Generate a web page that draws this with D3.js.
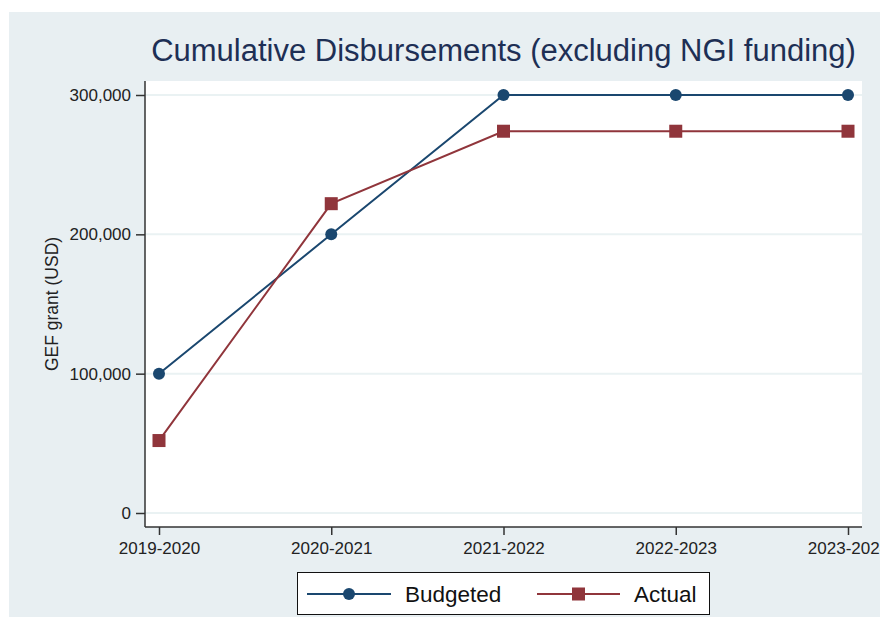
<!DOCTYPE html>
<html>
<head>
<meta charset="utf-8">
<script src="https://cdn.jsdelivr.net/npm/d3@7"></script>
<style>
  body { margin: 0; background: #fff; }
  svg { display: block; font-family: "Liberation Sans", Arial, sans-serif; }
</style>
</head>
<body>
<script>
// data
var years = ["2019-2020", "2020-2021", "2021-2022", "2022-2023", "2023-2024"];
var budgeted = [100000, 200000, 300000, 300000, 300000];
var actual = [52000, 222000, 274000, 274000, 274000];
var yTicks = [0, 100000, 200000, 300000];

var margin = {top: 81, right: 18, bottom: 90, left: 145};
var width = 880 - margin.left - margin.right;
var height = 617 - margin.top - margin.bottom;

var navy = "#1a476f";
var maroon = "#90353b";

var svg = d3.select("body")
  .append("svg")
    .attr("width", 880)
    .attr("height", 617);

// outer background
svg.append("rect")
  .attr("x", 9)
  .attr("y", 12)
  .attr("width", 871)
  .attr("height", 605)
  .attr("fill", "#e8eff2");

svg.append("text")
  .attr("x", margin.left + width / 2)
  .attr("y", 61)
  .attr("text-anchor", "middle")
  .attr("font-size", "31px")
  .style("fill", "#1e2f55")
  .text("Cumulative Disbursements (excluding NGI funding)");

var g = svg.append("g")
  .attr("transform", "translate(" + margin.left + " " + margin.top + ")");

g.append("rect")
  .attr("width", width)
  .attr("height", height)
  .attr("fill", "#fff");

var x = d3.scalePoint()
  .domain(years)
  .range([14, width - 14]);

var y = d3.scaleLinear()
  .domain([0, 300000])
  .range([height - 14, 14]);

// gridlines
g.selectAll("line.grid")
  .data(yTicks)
  .enter()
  .append("line")
    .attr("class", "grid")
    .attr("x1", 0)
    .attr("x2", width)
    .attr("y1", (d) => y(d))
    .attr("y2", (d) => y(d))
    .attr("stroke", "#eaf2f3")
    .attr("stroke-width", 2);

var leftAxis = d3.axisLeft(y)
  .tickValues(yTicks)
  .tickSize(9)
  .tickPadding(5)
  .tickFormat(d3.format(","));
var ly = g.append("g").call(leftAxis);
ly.select(".domain").attr("d", "M0,0V" + height).attr("stroke", "#333").attr("stroke-width", 1.5);
ly.selectAll(".tick line").attr("stroke", "#333").attr("stroke-width", 1.5);
ly.selectAll("text").attr("font-size", "17px").style("fill", "#222").attr("font-family", "Liberation Sans, Arial, sans-serif");

var bottomAxis = d3.axisBottom(x).tickSize(8).tickPadding(7);
var bx = g.append("g")
  .attr("transform", "translate(0, " + height + ")")
  .call(bottomAxis);
bx.select(".domain").attr("d", "M0,0H" + width).attr("stroke", "#333").attr("stroke-width", 1.5);
bx.selectAll(".tick line").attr("stroke", "#333").attr("stroke-width", 1.5);
bx.selectAll("text").attr("font-size", "17px").style("fill", "#222").attr("font-family", "Liberation Sans, Arial, sans-serif");

g.append("text")
  .attr("x", -(y(150000)))
  .attr("y", -87)
  .attr("text-anchor", "middle")
  .attr("font-size", "17.5px")
  .attr("transform", "rotate(-90)")
  .style("fill", "#222")
  .text("GEF grant (USD)");

var line = d3.line()
  .x((d, i) => x(years[i]))
  .y((d) => y(d));

g.append("path")
  .datum(budgeted)
  .attr("d", line)
  .attr("fill", "none")
  .attr("stroke", navy)
  .attr("stroke-width", 2);

g.append("path")
  .datum(actual)
  .attr("d", line)
  .attr("fill", "none")
  .attr("stroke", maroon)
  .attr("stroke-width", 2);

g.selectAll("circle.b")
  .data(budgeted)
  .enter()
  .append("circle")
    .attr("cx", (d, i) => x(years[i]))
    .attr("cy", (d) => y(d))
    .attr("r", 6)
    .attr("fill", navy);

g.selectAll("rect.a")
  .data(actual)
  .enter()
  .append("rect")
    .attr("x", (d, i) => x(years[i]) - 6.5)
    .attr("y", (d) => y(d) - 6.5)
    .attr("width", 13)
    .attr("height", 13)
    .attr("fill", maroon);

// legend
var leg = svg.append("g");
leg.append("rect")
  .attr("x", 297.5)
  .attr("y", 572.5)
  .attr("width", 412)
  .attr("height", 42)
  .attr("fill", "#fff")
  .attr("stroke", "#111")
  .attr("stroke-width", 1);

leg.append("line")
  .attr("x1", 307).attr("x2", 391).attr("y1", 594).attr("y2", 594)
  .attr("stroke", navy).attr("stroke-width", 2);
leg.append("circle")
  .attr("cx", 349).attr("cy", 594).attr("r", 6).attr("fill", navy);
leg.append("text")
  .attr("x", 405).attr("y", 602)
  .attr("font-size", "22.5px").style("fill", "#111")
  .text("Budgeted");

leg.append("line")
  .attr("x1", 537).attr("x2", 620).attr("y1", 594).attr("y2", 594)
  .attr("stroke", maroon).attr("stroke-width", 2);
leg.append("rect")
  .attr("x", 572).attr("y", 587.5).attr("width", 13).attr("height", 13).attr("fill", maroon);
leg.append("text")
  .attr("x", 634).attr("y", 602)
  .attr("font-size", "22.5px").style("fill", "#111")
  .text("Actual");
</script>
</body>
</html>
